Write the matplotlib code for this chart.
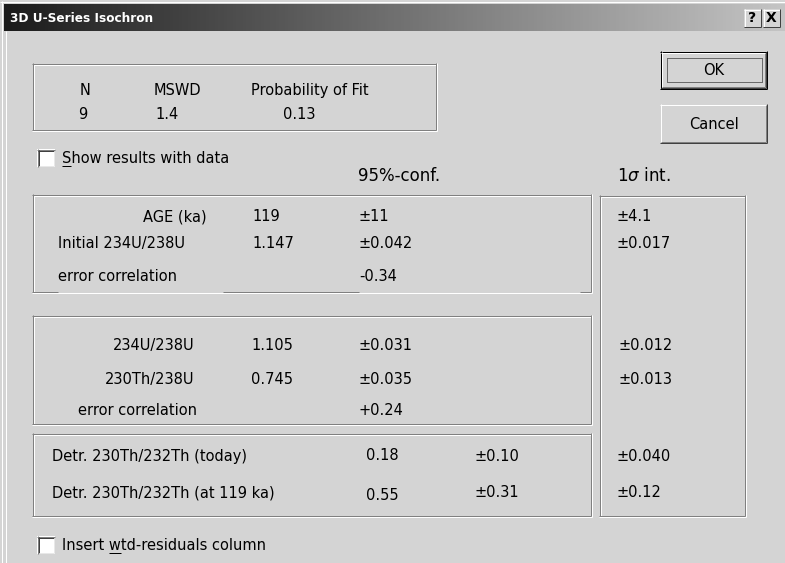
import matplotlib
matplotlib.use("Agg")
import matplotlib.pyplot as plt
import numpy as np
from matplotlib.patches import Rectangle
from matplotlib.colors import LinearSegmentedColormap

W, H = 785, 563

# ---- data ----
window_title = "3D U-Series Isochron"
summary_headers = ["N", "MSWD", "Probability of Fit"]
summary_values = ["9", "1.4", "0.13"]
column_headers = ["95%-conf.", "1$\\sigma$ int."]
age_labels = ["AGE (ka)", "Initial 234U/238U", "error correlation"]
age_values = ["119", "1.147", ""]
age_conf95 = ["±11", "±0.042", "-0.34"]
age_sigma1 = ["±4.1", "±0.017", ""]
ratio_labels = ["234U/238U", "230Th/238U", "error correlation"]
ratio_values = ["1.105", "0.745", ""]
ratio_conf95 = ["±0.031", "±0.035", "+0.24"]
ratio_sigma1 = ["±0.012", "±0.013", ""]
detr_labels = ["Detr. 230Th/232Th (today)", "Detr. 230Th/232Th (at 119 ka)"]
detr_values = ["0.18", "0.55"]
detr_conf95 = ["±0.10", "±0.31"]
detr_sigma1 = ["±0.040", "±0.12"]
button_labels = ["OK", "Cancel"]
checkbox_labels = ["Show results with data", "Insert wtd-residuals column"]

BG = '#d4d4d4'
DARK = '#808080'
WHITE = '#ffffff'
PX = 0.72
FS = 10.5

fig = plt.figure(figsize=(W / 100, H / 100), dpi=100)
fig.patch.set_facecolor(BG)
ax = fig.add_axes([0, 0, 1, 1])
ax.set_facecolor(BG)

def hline(x0, x1, y, c, lw=1):
    ax.plot([x0, x1], [y + 0.5, y + 0.5], color=c, lw=lw * PX, solid_capstyle='butt')

def vline(x, y0, y1, c, lw=1):
    ax.plot([x + 0.5, x + 0.5], [y0, y1], color=c, lw=lw * PX, solid_capstyle='butt')

def etched(x0, y0, x1, y1, bottom_segments=None):
    # white highlight offset by one pixel, then dark line
    hline(x0 + 1, x1 + 2, y0 + 1, WHITE)
    vline(x0 + 1, y0 + 1, y1 + 1, WHITE)
    hline(x0, x1 + 2, y1 + 1, WHITE)
    vline(x1 + 1, y0, y1 + 2, WHITE)
    hline(x0, x1 + 1, y0, DARK)
    vline(x0, y0, y1 + 1, DARK)
    vline(x1, y0, y1 + 1, DARK)
    if bottom_segments is None:
        hline(x0, x1 + 1, y1, DARK)
    else:
        for a, b in bottom_segments:
            hline(a, b, y1, DARK)

def txt(x, yc, s, ha='left', size=FS, **kw):
    cap = 0.73 * size * 100 / 72
    return ax.text(x, yc + cap / 2, s, ha=ha, va='baseline', fontsize=size,
                   family='DejaVu Sans', color='black', **kw)

# ---- title bar ----
cmap = LinearSegmentedColormap.from_list('tb', ['#1c1c1c', '#c4c4c4'])
ax.imshow(np.linspace(0, 1, 256)[None, :], extent=[4, W, 31, 4], cmap=cmap,
          aspect='auto', interpolation='bilinear', zorder=1)
hline(0, W, 1, WHITE)
vline(1, 1, H, WHITE)
vline(5, 31, H, WHITE)
ax.text(10, 18, window_title, ha='left', va='center', fontsize=8.7, fontweight='bold',
        color='white', family='DejaVu Sans', zorder=3)

for bx, lab in [(744, '?'), (763, 'X')]:
    ax.add_patch(Rectangle((bx, 9), 17, 18, facecolor=BG, edgecolor='none', zorder=2))
    hline(bx, bx + 17, 9, WHITE); vline(bx, 9, 27, WHITE)
    hline(bx, bx + 17, 26, '#404040'); vline(bx + 16, 9, 27, '#404040')
    ax.text(bx + 8.5, 18.5, lab, ha='center', va='center', fontsize=10, fontweight='bold',
            family='DejaVu Sans', color='black', zorder=3)

# ---- summary box ----
etched(32, 63, 435, 129)
txt(85, 90, summary_headers[0], ha='center')
txt(154, 90, summary_headers[1])
txt(251, 90, summary_headers[2])
txt(83, 114, summary_values[0], ha='center')
txt(155, 114, summary_values[1])
txt(283, 114, summary_values[2])

# ---- buttons ----
def button(x0, y0, x1, y1, label, default=False):
    ax.add_patch(Rectangle((x0, y0), x1 - x0, y1 - y0, facecolor=BG, edgecolor='none'))
    o = 0
    if default:
        hline(x0, x1, y0, 'black'); hline(x0, x1, y1 - 1, 'black')
        vline(x0, y0, y1, 'black'); vline(x1 - 1, y0, y1, 'black')
        o = 1
    hline(x0 + o, x1 - o, y0 + o, WHITE); vline(x0 + o, y0 + o, y1 - o, WHITE)
    hline(x0 + o, x1 - o, y1 - 1 - o, '#404040'); vline(x1 - 1 - o, y0 + o, y1 - o, '#404040')
    hline(x0 + 1 + o, x1 - 1 - o, y1 - 2 - o, DARK); vline(x1 - 2 - o, y0 + 1 + o, y1 - 1 - o, DARK)
    if default:
        ax.add_patch(Rectangle((667, 58), 95, 24, facecolor='none', edgecolor='black',
                               lw=PX, linestyle=(0, (1, 1))))
    txt((x0 + x1) / 2, (y0 + y1) / 2, label, ha='center')

button(660, 51, 767, 89, button_labels[0], default=True)
button(660, 104, 767, 143, button_labels[1])

# ---- checkboxes ----
def checkbox(x0, y0, label, under_idx):
    ax.add_patch(Rectangle((x0, y0), 18, 18, facecolor=WHITE, edgecolor='none'))
    hline(x0, x0 + 18, y0, DARK); vline(x0, y0, y0 + 18, DARK)
    hline(x0 + 1, x0 + 17, y0 + 1, '#404040'); vline(x0 + 1, y0 + 1, y0 + 17, '#404040')
    hline(x0 + 2, x0 + 17, y0 + 16, '#e8e8e8'); vline(x0 + 16, y0 + 2, y0 + 17, '#e8e8e8')
    txt(x0 + 25, y0 + 9, label)
    # underline accelerator key
    r = fig.canvas.get_renderer()
    pre = ax.text(0, 0, label[:under_idx], fontsize=FS, family='DejaVu Sans')
    ch = ax.text(0, 0, label[under_idx], fontsize=FS, family='DejaVu Sans')
    w_pre = pre.get_window_extent(r).width if under_idx > 0 else 0
    w_ch = ch.get_window_extent(r).width
    pre.remove(); ch.remove()
    hline(x0 + 25 + w_pre, x0 + 25 + w_pre + w_ch, y0 + 16, 'black')

checkbox(37, 149, checkbox_labels[0], 0)
checkbox(37, 536, checkbox_labels[1], 7)

# ---- column headers ----
txt(358, 175, column_headers[0], size=12)
txt(617, 175, column_headers[1], size=12)

# ---- age box ----
etched(32, 194, 590, 291, bottom_segments=[(32, 58), (223, 359), (580, 591)])
age_y = [216, 243, 276]
for i, y in enumerate(age_y):
    if i == 0:
        txt(207, y, age_labels[i], ha='right')
    else:
        txt(58, y, age_labels[i])
    txt(252, y, age_values[i])
    txt(359, y, age_conf95[i])
    txt(617, y, age_sigma1[i])

# ---- 1 sigma box ----
etched(599, 195, 744, 515)

# ---- ratio box ----
etched(32, 315, 590, 423)
ratio_y = [345, 379, 410]
for i, y in enumerate(ratio_y):
    txt(197 if i == 2 else 194, y, ratio_labels[i], ha='right')
    txt(251, y, ratio_values[i])
    txt(359, y, ratio_conf95[i])
    txt(619, y, ratio_sigma1[i])

# ---- detrital box ----
etched(32, 433, 590, 515)
detr_y = [456, 492]
detr_val_y = [455, 495]
for i, y in enumerate(detr_y):
    txt(52, y, detr_labels[i])
    txt(366, detr_val_y[i], detr_values[i])
    txt(475, y, detr_conf95[i])
    txt(617, y, detr_sigma1[i])

ax.set_xlim(0, W)
ax.set_ylim(H, 0)
ax.axis('off')
fig.savefig('out.png', dpi=100, facecolor=BG)
